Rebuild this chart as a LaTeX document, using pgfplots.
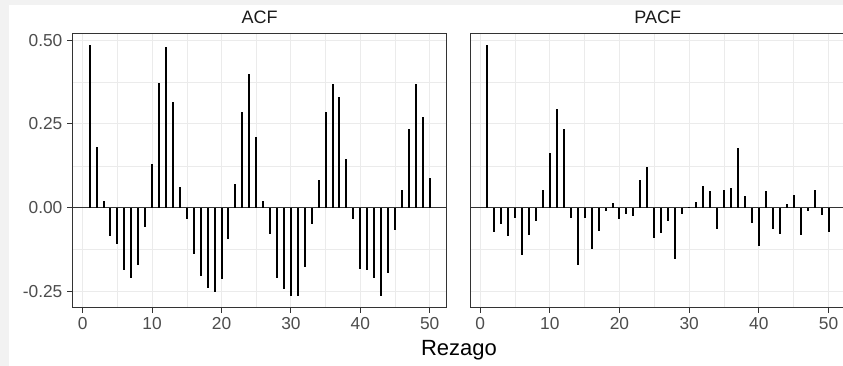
\documentclass[border=0pt]{standalone}
\usepackage{fontspec}
\setmainfont{Liberation Sans}
\usepackage{pgfplots}
\pgfplotsset{compat=1.18}
\definecolor{bgg}{HTML}{F2F2F2}
\definecolor{grey20}{HTML}{333333}
\definecolor{grey30}{HTML}{4D4D4D}
\definecolor{grey92}{HTML}{EBEBEB}
\definecolor{grey10}{HTML}{1A1A1A}
\pgfplotsset{
 panel/.style={
  scale only axis, width=280.5pt, height=205.7pt,
  xmin=-1.45, xmax=52.45, ymin=-0.2966, ymax=0.521,
  xtick={0,10,20,30,40,50}, xticklabels={0,10,20,30,40,50},
  minor xtick={5,15,25,35,45}, minor ytick={-0.125,0.125,0.375},
  ytick={-0.25,0,0.25,0.5},
  grid=both,
  major grid style={grey92, line width=0.8pt},
  minor grid style={grey92, line width=0.4pt},
  axis line style={grey20, line width=0.7pt},
  tick align=outside, xtick pos=bottom, ytick pos=left,
  major tick length=4.2pt, minor tick length=0pt,
  tick style={grey20, line width=0.7pt},
  ticklabel style={font=\fontsize{13}{13}\selectfont, text=grey30},
  anchor=south west,
 },
 comb/.style={ycomb, black, line width=1.5pt, mark=none},
 zero/.style={grey20, line width=0.8pt, mark=none},
}
\begin{document}
\begin{tikzpicture}
\useasboundingbox (0,0) rectangle (632.25pt,274.5pt);
\clip (0,0) rectangle (632.25pt,274.5pt);
\fill[bgg] (0,0) rectangle (632.25pt,274.5pt);
\fill[white] (6.75pt,0) rectangle (632.25pt,270.75pt);
\begin{axis}[panel, at={(54.5pt,44pt)}, yticklabels={-0.25,0.00,0.25,0.50}]
\addplot[zero] coordinates {(-3,0) (55,0)};
\addplot[comb] coordinates {
(1,0.485) (2,0.180) (3,0.021) (4,-0.084) (5,-0.109) (6,-0.184) (7,-0.209) (8,-0.171) (9,-0.057) (10,0.132)
(11,0.373) (12,0.478) (13,0.315) (14,0.061) (15,-0.032) (16,-0.138) (17,-0.204) (18,-0.239) (19,-0.251) (20,-0.211)
(21,-0.094) (22,0.070) (23,0.286) (24,0.398) (25,0.212) (26,0.019) (27,-0.079) (28,-0.208) (29,-0.241) (30,-0.263)
(31,-0.263) (32,-0.176) (33,-0.047) (34,0.083) (35,0.286) (36,0.368) (37,0.329) (38,0.145) (39,-0.032) (40,-0.181)
(41,-0.184) (42,-0.208) (43,-0.263) (44,-0.194) (45,-0.065) (46,0.053) (47,0.235) (48,0.368) (49,0.271) (50,0.089)
};
\end{axis}
\begin{axis}[panel, width=281.7pt, at={(352.5pt,44pt)}, yticklabels={}, ytick style={draw=none}]
\addplot[zero] coordinates {(-3,0) (55,0)};
\addplot[comb] coordinates {
(1,0.485) (2,-0.072) (3,-0.047) (4,-0.084) (5,-0.030) (6,-0.141) (7,-0.082) (8,-0.039) (9,0.053) (10,0.162)
(11,0.296) (12,0.235) (13,-0.030) (14,-0.171) (15,-0.030) (16,-0.124) (17,-0.070) (18,-0.009) (19,0.014) (20,-0.032)
(21,-0.017) (22,-0.024) (23,0.083) (24,0.122) (25,-0.091) (26,-0.075) (27,-0.039) (28,-0.153) (29,-0.017) (30,0.003)
(31,0.018) (32,0.066) (33,0.050) (34,-0.064) (35,0.053) (36,0.058) (37,0.177) (38,0.036) (39,-0.045) (40,-0.114)
(41,0.051) (42,-0.062) (43,-0.079) (44,0.012) (45,0.039) (46,-0.082) (47,-0.010) (48,0.053) (49,-0.022) (50,-0.072)
};
\end{axis}
\node[anchor=base, font=\fontsize{13.5}{13}\selectfont, text=grey10] at (194.8pt,256.5pt) {ACF};
\node[anchor=base, font=\fontsize{13.5}{13}\selectfont, text=grey10] at (493.3pt,256.5pt) {PACF};
\node[anchor=base, font=\fontsize{16.5}{16}\selectfont, text=black] at (344.25pt,7.5pt) {Rezago};
\end{tikzpicture}
\end{document}
